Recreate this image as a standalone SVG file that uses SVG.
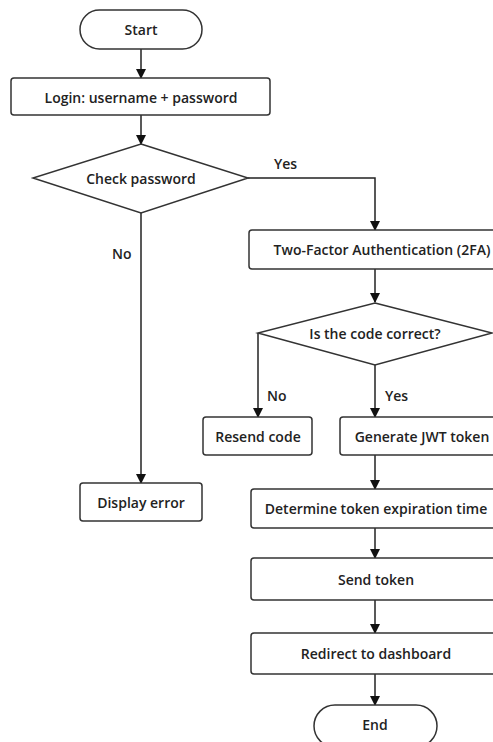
<svg xmlns="http://www.w3.org/2000/svg" width="493" height="742" viewBox="0 0 493 742">
<defs>
<style>
.n{fill:#fff;stroke:#333;stroke-width:1.5}
.t{font-family:"Open Sans","Noto Sans",sans-serif;font-weight:600;font-size:14px;fill:#222;text-anchor:middle;dominant-baseline:central}
.c{fill:none;stroke:#222;stroke-width:1.5}
.l{font-family:"Open Sans","Noto Sans",sans-serif;font-weight:600;font-size:14px;fill:#222;dominant-baseline:central}
</style>
<marker id="ah" markerWidth="10" markerHeight="10" refX="9" refY="5" orient="auto" markerUnits="userSpaceOnUse">
<path d="M0,0 L10,5 L0,10 z" fill="#111"/>
</marker>
</defs>
<rect width="493" height="742" fill="#fff"/>
<g id="connectors">
<path class="c" d="M141,49 V78" marker-end="url(#ah)"/>
<path class="c" d="M141,115 V144" marker-end="url(#ah)"/>
<path class="c" d="M248,178 H375 V230" marker-end="url(#ah)"/>
<path class="c" d="M141,213 V483" marker-end="url(#ah)"/>
<path class="c" d="M375,269 V302" marker-end="url(#ah)"/>
<path class="c" d="M258,333 V417" marker-end="url(#ah)"/>
<path class="c" d="M375,365 V417" marker-end="url(#ah)"/>
<path class="c" d="M375,455 V489" marker-end="url(#ah)"/>
<path class="c" d="M375,528 V558" marker-end="url(#ah)"/>
<path class="c" d="M375,600 V633" marker-end="url(#ah)"/>
<path class="c" d="M375,674 V705" marker-end="url(#ah)"/>
<text class="l" x="274" y="163">Yes</text>
<text class="l" x="112" y="253">No</text>
<text class="l" x="267" y="395">No</text>
<text class="l" x="385" y="395">Yes</text>
</g>
<g id="start"><rect class="n" x="80" y="10" width="122" height="39" rx="19.5"/><text class="t" x="141" y="29">Start</text></g>
<g id="login"><rect class="n" x="11" y="78" width="259" height="37" rx="3"/><text class="t" x="141" y="97">Login: username + password</text></g>
<g id="check"><polygon class="n" points="141,144 248,178 141,213 33,178"/><text class="t" x="141" y="178">Check password</text></g>
<g id="twofa"><rect class="n" x="249" y="230" width="266" height="39" rx="3"/><text class="t" x="382" y="249">Two-Factor Authentication (2FA)</text></g>
<g id="code"><polygon class="n" points="375,303 492,333 375,365 258,333"/><text class="t" x="375" y="333">Is the code correct?</text></g>
<g id="resend"><rect class="n" x="203" y="417" width="109" height="38" rx="3"/><text class="t" x="258" y="436">Resend code</text></g>
<g id="jwt"><rect class="n" x="340" y="417" width="165" height="38" rx="3"/><text class="t" x="422" y="436">Generate JWT token</text></g>
<g id="error"><rect class="n" x="80" y="483" width="122" height="38" rx="3"/><text class="t" x="141" y="502">Display error</text></g>
<g id="expire"><rect class="n" x="251" y="489" width="250" height="39" rx="3"/><text class="t" x="376" y="508">Determine token expiration time</text></g>
<g id="send"><rect class="n" x="251" y="558" width="250" height="42" rx="3"/><text class="t" x="376" y="579">Send token</text></g>
<g id="redirect"><rect class="n" x="251" y="633" width="250" height="41" rx="3"/><text class="t" x="376" y="653">Redirect to dashboard</text></g>
<g id="end"><rect class="n" x="314" y="705" width="123" height="42" rx="21"/><text class="t" x="375" y="724">End</text></g>
</svg>
